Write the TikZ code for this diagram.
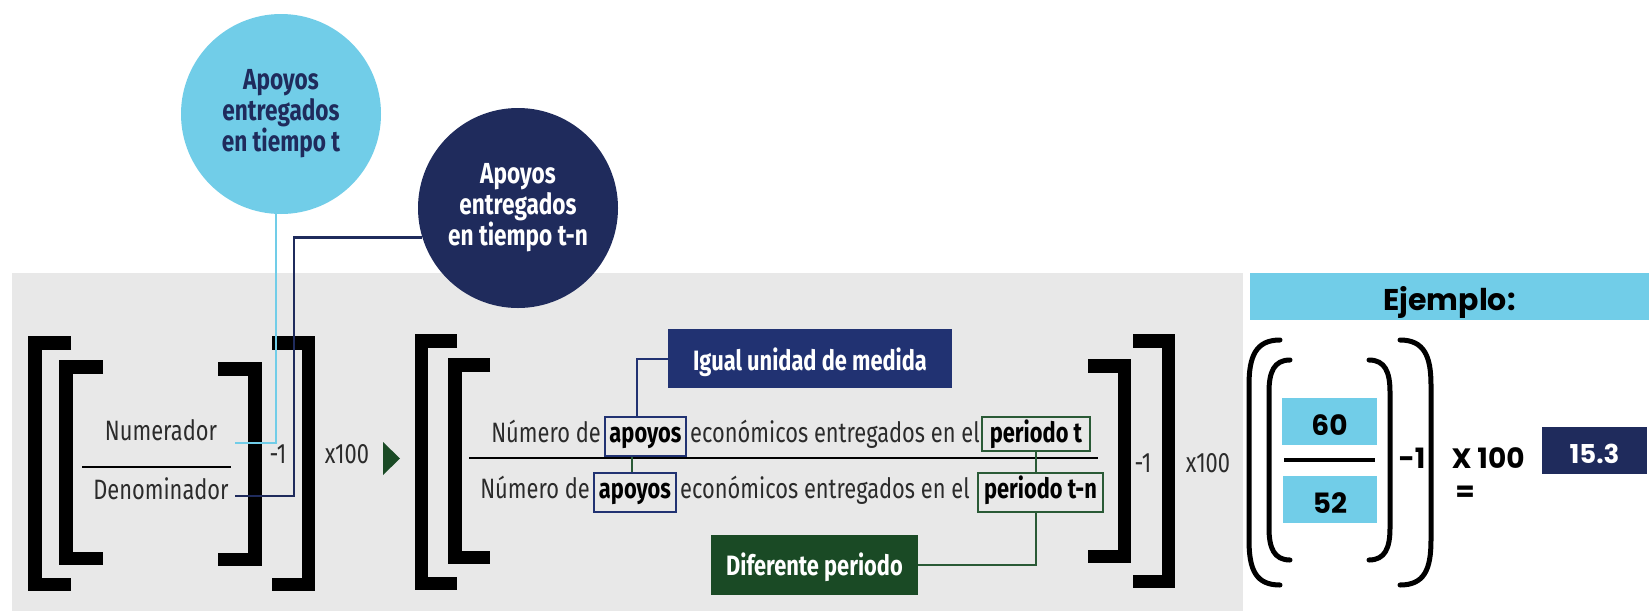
\documentclass[tikz,border=0pt]{standalone}
\usepackage{fontspec}
\newfontfamily\cf{Fira Sans}[FakeStretch=0.78]
\newfontfamily\pf{Poppins}
\usetikzlibrary{calc}
\definecolor{lb}{HTML}{71CDE8}
\definecolor{nv}{HTML}{1F2B5C}
\definecolor{nvb}{HTML}{213272}
\definecolor{dg}{HTML}{1A4A25}
\definecolor{gl}{HTML}{2A5A36}
\definecolor{bg}{HTML}{E8E8E8}
\definecolor{tx}{HTML}{2B2B2B}
\newcommand\myLB[4]{\draw[brk] (#4,#2+6.75) -- (#1,#2+6.75) -- (#1,#3-6.75) -- (#4,#3-6.75);}
\newcommand\myRB[4]{\draw[brk] (#4,#2+6.75) -- (#1,#2+6.75) -- (#1,#3-6.75) -- (#4,#3-6.75);}
\begin{document}
\begin{tikzpicture}[x=1pt,y=-1pt,
  brk/.style={line width=13.5pt,line join=miter,line cap=butt,draw=black},
  par/.style={line width=5pt,line cap=round,draw=black},
  txt/.style={inner sep=0pt,font=\cf\fontsize{28}{31}\selectfont,text=tx},
  ptxt/.style={inner sep=0pt,font=\pf\bfseries\fontsize{28}{32}\selectfont,text=black},
  circ/.style={circle,minimum size=200pt,inner sep=0pt,align=center,font=\cf\bfseries\fontsize{29}{31}\selectfont},
  fbox/.style={inner sep=0pt,text depth=0pt},
  obox/.style={draw,line width=2pt,inner sep=0pt,font=\cf\bfseries\fontsize{28}{31}\selectfont,text=black},
  lbline/.style={draw=lb,line width=2.5pt},
  nvline/.style={draw=nv,line width=2.5pt},
  nvthin/.style={draw=nvb,line width=2pt},
  gthin/.style={draw=gl,line width=2pt}]
\useasboundingbox (0,0) rectangle (1649,611);
\fill[white] (0,0) rectangle (1649,611);
\fill[bg] (12,273) rectangle (1243,611);

% circles
\node[circ,fill=lb,text=nv] (lbc) at (281,114) {Apoyos\\entregados\\en tiempo t};
\node[circ,fill=nv,text=white] (nvc) at (518,208) {Apoyos\\entregados\\en tiempo t-n};

% left formula brackets
\myLB{35}{336}{591}{71}
\myLB{66}{360}{565}{103}
\myRB{255}{362}{566}{218}
\myRB{308.5}{336}{591}{272}

\node[txt,anchor=base] (num) at (161,440) {Numerador};
\node[txt,anchor=base] (den) at (161,499) {Denominador};
\draw[black,line width=2pt] (82,467) -- (231,467);
\node[txt,anchor=base] (m1a) at (278,463) {-1};
\node[txt,anchor=base] (x1a) at (347,463) {x100};
\fill[dg] (383,442) -- (400,458.5) -- (383,475) -- cycle;

\coordinate (nstart) at (235,443);
\coordinate (dstart) at (235,496);
\coordinate (dcorner) at (294,496);
\draw[lbline] (nstart) -| ([xshift=-5pt]lbc.south);
\draw[nvline] (dstart) -- (dcorner) |- (nvc.197);

% middle formula brackets
\myLB{421.5}{334}{590}{457}
\myLB{455}{358}{564}{490}
\myRB{1124.5}{359}{563}{1088}
\myRB{1168.5}{334}{588}{1133}

\node[fbox,fill=nvb,text=white,minimum width=284pt,minimum height=59pt,text height=24pt,font=\cf\bfseries\fontsize{28}{31}\selectfont] (igual) at (810,358.5) {Igual unidad de medida};
\node[fbox,fill=dg,text=white,minimum width=207pt,minimum height=60pt,text height=21pt,font=\cf\bfseries\fontsize{28}{31}\selectfont] (dif) at (814.5,565) {Diferente periodo};

\node[obox,draw=nvb,minimum width=81pt,minimum height=39pt,text height=18pt,text depth=7pt] (apN) at (645.5,436.5) {apoyos};
\node[obox,draw=gl,minimum width=108pt,minimum height=34pt,text height=19pt,text depth=3pt] (perN) at (1036,434) {periodo t};
\node[obox,draw=nvb,minimum width=82pt,minimum height=39pt,text height=18pt,text depth=7pt] (apD) at (635,492.5) {apoyos};
\node[obox,draw=gl,minimum width=125pt,minimum height=39pt,text height=18pt,text depth=7pt] (perD) at (1040.5,492.5) {periodo t-n};

\node[txt,anchor=base east] (n1) at ([xshift=-3pt]apN.base west) {Número de};
\node[txt,anchor=base west] (n2) at ([xshift=3pt]apN.base east) {económicos entregados en el};
\node[txt,anchor=base east] (d1) at ([xshift=-3pt]apD.base west) {Número de};
\node[txt,anchor=base west] (d2) at ([xshift=3pt]apD.base east) {económicos entregados en el};

\draw[black,line width=2pt] (469,458) -- (1098,458);
\node[txt,anchor=base] (m1b) at (1143,472) {-1};
\node[txt,anchor=base] (x1b) at (1208,472) {x100};

\draw[nvthin] (igual.west) -| ($(apN.north)+(-8.5,0)$);
\draw[gthin] ($(apD.north)+(-3,0)$) -- ($(apD.north |- apN.south)+(-3,0)$);
\draw[gthin] (perN.south) -- (perN.south |- perD.north);
\draw[gthin] ($(perD.south)+(-5,0)$) |- (dif.east);

% example
\node[fbox,fill=lb,minimum width=399pt,minimum height=47pt,text height=27pt,font=\pf\bfseries\fontsize{30}{34}\selectfont] (ej) at (1449.5,296.5) {Ejemplo:};
\draw[par] (1280,340) .. controls (1256,340) and (1249,356) .. (1249,385) -- (1249,540) .. controls (1249,570) and (1256,585) .. (1280,585);
\draw[par] (1400,340) .. controls (1424,340) and (1431,356) .. (1431,385) -- (1431,540) .. controls (1431,570) and (1424,585) .. (1400,585);
\draw[par] (1290,360) .. controls (1274,360) and (1269,372) .. (1269,392) -- (1269,528) .. controls (1269,548) and (1274,560) .. (1290,560);
\draw[par] (1369,360) .. controls (1385,360) and (1390,372) .. (1390,392) -- (1390,528) .. controls (1390,548) and (1385,560) .. (1369,560);
\node[fbox,fill=lb,minimum width=95pt,minimum height=47pt,text height=27pt,font=\pf\bfseries\fontsize{28}{32}\selectfont] (v60) at (1329.5,421.5) {60};
\node[fbox,fill=lb,minimum width=94pt,minimum height=47pt,text height=27pt,font=\pf\bfseries\fontsize{28}{32}\selectfont] (v52) at (1330,499.5) {52};
\draw[black,line width=4pt] (1284,460) -- (1375,460);
\node[ptxt,anchor=base] (m1c) at (1412,468) {-1};
\node[ptxt,anchor=base] (x1c) at (1488,468) {X 100};
\node[ptxt,anchor=base] (eq) at (1465,501) {=};
\node[fbox,fill=nv,text=white,minimum width=105pt,minimum height=47pt,text height=25pt,font=\pf\bfseries\fontsize{26}{30}\selectfont] (res) at (1594.5,450.5) {15.3};
\end{tikzpicture}
\end{document}
